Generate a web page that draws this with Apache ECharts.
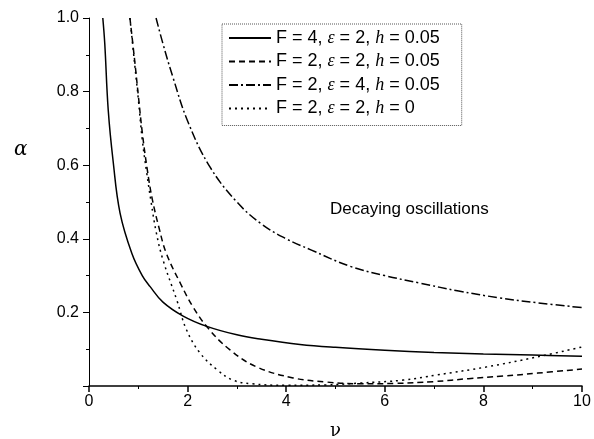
<!DOCTYPE html>
<html>
<head>
<meta charset="utf-8">
<script src="https://cdn.jsdelivr.net/npm/echarts@6/dist/echarts.min.js"></script>
<style>
  html, body { margin: 0; padding: 0; background: #fff; }
  #chart { width: 594px; height: 439px; }
</style>
</head>
<body>
<div id="chart"></div>
<script>
// values: nu (x) and alpha (y)
const solidNu = [0.28, 0.32, 0.39, 0.49, 0.63, 0.87, 1.08, 1.24, 1.5, 1.91, 2.39, 3.0, 3.5, 4.28, 5.0, 6.0, 7.0, 8.0, 9.0, 10]
const solidA = [1.0, 0.93, 0.75, 0.61, 0.47, 0.36, 0.30, 0.27, 0.228, 0.19, 0.162, 0.139, 0.127, 0.113, 0.105, 0.097, 0.091, 0.087, 0.084, 0.081]

const dashNu = [0.83, 0.93, 1.0, 1.08, 1.18, 1.28, 1.42, 1.57, 1.85, 2.11, 2.41, 2.86, 3.4, 4.14, 4.8, 5.5, 6.2, 7.0, 7.7, 8.4, 9.1, 10]
const dashA = [1.0, 0.88, 0.79, 0.69, 0.59, 0.51, 0.43, 0.36, 0.28, 0.215, 0.158, 0.098, 0.052, 0.022, 0.011, 0.006, 0.007, 0.012, 0.02, 0.027, 0.035, 0.046]

const dashDotNu = [1.36, 1.5, 1.7, 2.0, 2.45, 3.0, 3.5, 4.0, 4.5, 5.3, 6.0, 6.7, 7.5, 8.3, 9.1, 10]
const dashDotA = [1.0, 0.93, 0.84, 0.72, 0.596, 0.50, 0.44, 0.40, 0.37, 0.325, 0.30, 0.28, 0.258, 0.24, 0.226, 0.213]

const dotNu = [0.83, 0.93, 1.0, 1.08, 1.17, 1.26, 1.36, 1.5, 1.78, 1.98, 2.25, 2.6, 2.92, 3.3, 4.0, 4.8, 5.5, 6.37, 7.06, 8.07, 9.09, 10]
const dotA = [1.0, 0.87, 0.78, 0.67, 0.58, 0.50, 0.42, 0.343, 0.234, 0.152, 0.09, 0.044, 0.016, 0.006, 0.002, 0.003, 0.008, 0.016, 0.03, 0.052, 0.079, 0.106]

const seriesNames = [
    'F = 4, {i|ε} = 2, {i|h} = 0.05',
    'F = 2, {i|ε} = 2, {i|h} = 0.05',
    'F = 2, {i|ε} = 4, {i|h} = 0.05',
    'F = 2, {i|ε} = 2, {i|h} = 0'
]

function pairs(xs, ys) {
    return xs.map((x, i) => [x, ys[i]])
}

function makeLine(name, xs, ys, dash) {
    return {
        name: name,
        type: 'line',
        smooth: 0.4,
        symbol: 'none',
        data: pairs(xs, ys),
        lineStyle: { color: '#000', width: 1.5, type: dash },
        itemStyle: { color: '#000' },
        animation: false
    }
}

const chart = echarts.init(document.getElementById('chart'))
const axisFont = { fontFamily: 'Liberation Sans', fontSize: 16, color: '#000' }

chart.setOption({
    backgroundColor: '#fff',
    grid: { left: 89, right: 12, top: 18, bottom: 53, outerBoundsMode: 'none' },
    xAxis: {
        type: 'value',
        min: 0,
        max: 10,
        interval: 2,
        name: 'ν',
        nameLocation: 'middle',
        nameGap: 36,
        nameTextStyle: { fontFamily: 'DejaVu Serif', fontSize: 18, color: '#000' },
        axisLine: { lineStyle: { color: '#000', width: 1.5 } },
        axisTick: { length: 6, lineStyle: { color: '#000', width: 1.5 } },
        minorTick: { show: true, splitNumber: 2, length: 3, lineStyle: { color: '#000' } },
        splitLine: { show: false },
        axisLabel: Object.assign({ margin: 8 }, axisFont)
    },
    yAxis: {
        type: 'value',
        min: 0,
        max: 1,
        interval: 0.2,
        axisLine: { show: true, lineStyle: { color: '#000', width: 1 } },
        axisTick: { show: true, length: 6, lineStyle: { color: '#000' } },
        minorTick: { show: true, splitNumber: 2, length: 3, lineStyle: { color: '#000' } },
        splitLine: { show: false },
        axisLabel: Object.assign({
            margin: 10,
            formatter: v => (v === 0 ? '' : v.toFixed(1))
        }, axisFont)
    },
    legend: {
        orient: 'vertical',
        left: 222,
        top: 24,
        padding: [5, 22, 8, 6],
        itemWidth: 42,
        itemHeight: 14,
        itemGap: 5.5,
        borderColor: '#555',
        borderWidth: 1,
        borderType: 'dotted',
        itemStyle: { opacity: 0 },
        data: seriesNames,
        textStyle: {
            fontFamily: 'Liberation Sans',
            fontSize: 18,
            lineHeight: 18,
            color: '#000',
            rich: {
                i: { fontFamily: 'Liberation Serif', fontStyle: 'italic', fontSize: 18, color: '#000' }
            }
        }
    },
    graphic: [
        {
            type: 'text',
            left: 14,
            top: 140,
            style: { text: 'α', font: 'italic 20px "DejaVu Serif"', fill: '#000' }
        },
        {
            type: 'text',
            left: 330,
            top: 201,
            style: { text: 'Decaying oscillations', font: '17px "Liberation Sans"', fill: '#000' }
        }
    ],
    series: [
        makeLine(seriesNames[0], solidNu, solidA, 'solid'),
        makeLine(seriesNames[1], dashNu, dashA, [6, 4]),
        makeLine(seriesNames[2], dashDotNu, dashDotA, [9, 3, 2, 3]),
        makeLine(seriesNames[3], dotNu, dotA, [2, 4])
    ]
})
</script>
</body>
</html>
